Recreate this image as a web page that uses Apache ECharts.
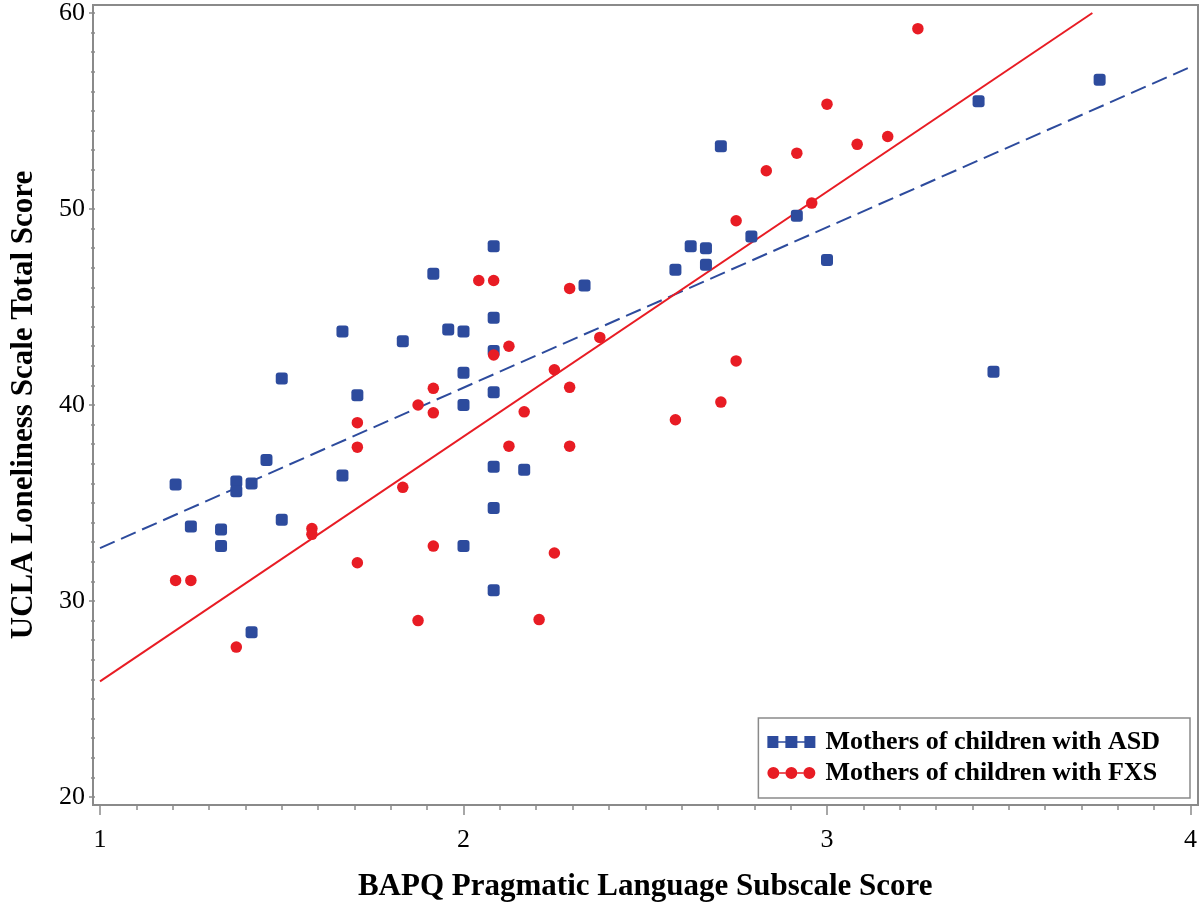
<!DOCTYPE html>
<html>
<head>
<meta charset="utf-8">
<script src="https://cdn.jsdelivr.net/npm/echarts@6/dist/echarts.min.js"></script>
<style>
  html, body { margin: 0; padding: 0; background: #ffffff; }
  #chart { width: 1200px; height: 907px; }
</style>
</head>
<body>
<div id="chart"></div>
<script>
// ---- data ----
const asdName = 'Mothers of children with ASD';
const fxsName = 'Mothers of children with FXS';

const asdX = [1.208, 1.25, 1.333, 1.333, 1.375, 1.375, 1.417, 1.417, 1.458, 1.5, 1.5,
              1.667, 1.667, 1.708, 1.833, 1.917, 1.958, 2.0, 2.0, 2.0, 2.0,
              2.083, 2.083, 2.083, 2.083, 2.083, 2.083, 2.083, 2.167, 2.333,
              2.583, 2.625, 2.667, 2.667, 2.708, 2.792, 2.917, 3.0, 3.417, 3.458, 3.75];
const asdY = [35.95, 33.8, 33.65, 32.8, 36.1, 35.6, 36.0, 28.4, 37.2, 41.35, 34.15,
              43.75, 36.4, 40.5, 43.25, 46.7, 43.85, 43.75, 41.65, 40.0, 32.8,
              48.1, 44.45, 42.75, 40.65, 36.85, 34.75, 30.55, 36.7, 46.1,
              46.9, 48.1, 48.0, 47.15, 53.2, 48.6, 49.65, 47.4, 55.5, 41.7, 56.6];

const fxsX = [1.208, 1.25, 1.375, 1.583, 1.583, 1.708, 1.708, 1.708, 1.833, 1.875, 1.875,
              1.917, 1.917, 1.917, 2.042, 2.083, 2.083, 2.125, 2.125, 2.167, 2.208,
              2.25, 2.25, 2.292, 2.292, 2.292, 2.375, 2.583, 2.708, 2.75, 2.75,
              2.833, 2.917, 2.958, 3.0, 3.083, 3.167, 3.25];
const fxsY = [31.05, 31.05, 27.65, 33.7, 33.4, 39.1, 37.85, 31.95, 35.8, 40.0, 29.0,
              40.85, 39.6, 32.8, 46.35, 46.35, 42.55, 43.0, 37.9, 39.65, 29.05,
              41.8, 32.45, 45.95, 40.9, 37.9, 43.45, 39.25, 40.15, 49.4, 42.25,
              51.95, 52.85, 50.3, 55.35, 53.3, 53.7, 59.2];

// fitted lines (end points)
const asdFitX = [1, 4];
const asdFitY = [32.7, 57.25];
const fxsFitX = [1, 3.73];
const fxsFitY = [25.9, 60];

const xTicks = [1, 2, 3, 4];
const yTicks = [20, 30, 40, 50, 60];

// ---- styling ----
const BLUE = '#2D4B9D';
const RED = '#E81C24';
const GRAY = '#8a8a8a';
const FONT = "'Liberation Serif', 'Times New Roman', serif";

const zip = (xs, ys) => xs.map((x, i) => [x, ys[i]]);

const asdIcon = 'path://M0,0h11v12h-11z M11,5.3h7v1.4h-7z M18,0h12v12h-12z M30,5.3h7v1.4h-7z M37,0h11v12h-11z';
const fxsIcon = 'path://M0,6a6,6 0 1,0 12,0a6,6 0 1,0 -12,0z M12,5.3h6v1.4h-6z M18,6a6,6 0 1,0 12,0a6,6 0 1,0 -12,0z M30,5.3h6v1.4h-6z M36,6a6,6 0 1,0 12,0a6,6 0 1,0 -12,0z';

const chart = echarts.init(document.getElementById('chart'), null, { renderer: 'canvas' });

chart.setOption({
  backgroundColor: '#ffffff',
  animation: false,
  textStyle: { fontFamily: FONT },
  grid: { left: 98, right: 9, top: 13, bottom: 110 },
  graphic: [{
    type: 'rect',
    silent: true,
    z: 0,
    shape: { x: 93, y: 5, width: 1105, height: 800 },
    style: { fill: null, stroke: GRAY, lineWidth: 2 }
  }],
  xAxis: {
    type: 'value',
    min: xTicks[0],
    max: xTicks[xTicks.length - 1],
    interval: 1,
    offset: 8,
    name: 'BAPQ Pragmatic Language Subscale Score',
    nameLocation: 'middle',
    nameGap: 66,
    nameTextStyle: { fontFamily: FONT, fontSize: 31, fontWeight: 'bold', color: '#000' },
    axisLine: { show: false },
    axisTick: { show: true, length: 10, lineStyle: { color: GRAY, width: 1.5 } },
    minorTick: { show: true, splitNumber: 10, length: 5, lineStyle: { color: GRAY, width: 1.5 } },
    splitLine: { show: false },
    axisLabel: { fontFamily: FONT, fontSize: 26, color: '#000', margin: 22 }
  },
  yAxis: {
    type: 'value',
    min: yTicks[0],
    max: yTicks[yTicks.length - 1],
    interval: 10,
    offset: 5,
    name: 'UCLA Loneliness Scale Total Score',
    nameLocation: 'middle',
    nameGap: 56,
    nameTextStyle: { fontFamily: FONT, fontSize: 31, fontWeight: 'bold', color: '#000' },
    axisLine: { show: false },
    axisTick: { show: true, length: 6, lineStyle: { color: GRAY, width: 1.5 } },
    minorTick: { show: true, splitNumber: 10, length: 4, lineStyle: { color: GRAY, width: 1.5 } },
    splitLine: { show: false },
    axisLabel: { fontFamily: FONT, fontSize: 26, color: '#000', margin: 10 }
  },
  legend: {
    data: [
      { name: asdName, icon: asdIcon },
      { name: fxsName, icon: fxsIcon }
    ],
    orient: 'vertical',
    right: 10,
    top: 718,
    itemWidth: 48,
    itemHeight: 12,
    itemGap: 5,
    padding: [11, 30, 12, 9],
    borderColor: GRAY,
    borderWidth: 1.5,
    backgroundColor: '#ffffff',
    textStyle: { fontFamily: FONT, fontSize: 26, fontWeight: 'bold', color: '#000', padding: [0, 0, 0, 5] },
    selectedMode: false
  },
  series: [
    {
      name: 'ASD fit',
      type: 'line',
      data: zip(asdFitX, asdFitY),
      showSymbol: false,
      symbol: 'none',
      lineStyle: { color: BLUE, width: 2, type: [16, 7] },
      z: 1,
      silent: true
    },
    {
      name: 'FXS fit',
      type: 'line',
      data: zip(fxsFitX, fxsFitY),
      showSymbol: false,
      symbol: 'none',
      lineStyle: { color: RED, width: 2 },
      z: 1,
      silent: true
    },
    {
      name: asdName,
      type: 'scatter',
      data: zip(asdX, asdY),
      symbol: 'roundRect',
      symbolSize: 12,
      itemStyle: { color: BLUE, opacity: 1 },
      z: 3
    },
    {
      name: fxsName,
      type: 'scatter',
      data: zip(fxsX, fxsY),
      symbol: 'circle',
      symbolSize: 11.5,
      itemStyle: { color: RED, opacity: 1 },
      z: 3
    }
  ]
});
</script>
</body>
</html>
